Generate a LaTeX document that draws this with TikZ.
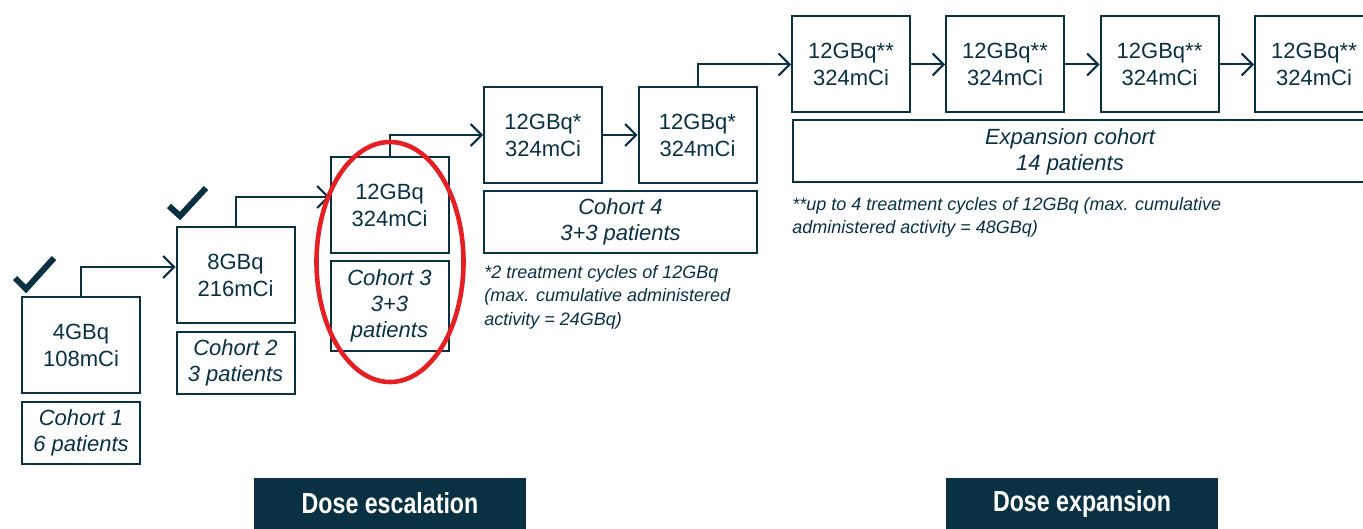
\documentclass[tikz,border=0pt]{standalone}
\usepackage{fontspec}
\setmainfont{Liberation Sans}
\newfontfamily\barfont[FakeStretch=0.8]{Liberation Sans}
\usetikzlibrary{arrows.meta}

\definecolor{navy}{RGB}{9,49,66}
\definecolor{ringred}{RGB}{228,32,36}

\begin{document}
\begin{tikzpicture}[x=0.5pt, y=-0.5pt,
  dose/.style={draw=navy, line width=1pt, text=navy, minimum width=59pt, minimum height=48pt, inner sep=0pt, align=center, font=\fontsize{11}{13.5}\selectfont},
  cohort/.style={draw=navy, line width=1pt, text=navy, minimum width=59pt, minimum height=31pt, inner sep=0pt, align=center, font=\fontsize{11}{13}\selectfont\itshape},
  link/.style={navy, line width=1pt, -{Straight Barb[length=5.5pt,width=11pt]}},
  tick/.style={navy, line width=3pt},
  note/.style={anchor=north west, inner sep=0pt, align=left, text=navy, font=\fontsize{9}{11.75}\selectfont\itshape},
  phase/.style={fill=navy, text=white, minimum width=136pt, minimum height=25.5pt, inner sep=0pt, font=\barfont\bfseries\fontsize{14.5}{16}\selectfont}]
\useasboundingbox (0,0) rectangle (1363,529);

% dose escalation
\node[dose] (dose1) at (81,345) {4GBq\\108mCi};
\node[cohort] (cohort1) at (81,433) {Cohort 1\\6 patients};

\node[dose] (dose2) at (235.5,275) {8GBq\\216mCi};
\node[cohort] (cohort2) at (235.5,363) {Cohort 2\\3 patients};

\node[dose] (dose3) at (389.5,205) {12GBq\\324mCi};
\node[cohort, minimum height=45pt] (cohort3) at (389.5,306) {Cohort 3\\3+3\\patients};

\node[dose] (dose4a) at (543,135) {12GBq*\\324mCi};
\node[dose] (dose4b) at (697.5,135) {12GBq*\\324mCi};
\node[cohort, minimum width=136.5pt] (cohort4) at (620.5,222) {Cohort 4\\3+3 patients};
\node[note] (note4) at (484,265) {*2 treatment cycles of 12GBq\\(max. cumulative administered\\activity = 24GBq)};

% dose expansion
\node[dose] (exp1) at (851,64.5) {12GBq**\\324mCi};
\node[dose] (exp2) at (1005,64.5) {12GBq**\\324mCi};
\node[dose] (exp3) at (1159.5,64.5) {12GBq**\\324mCi};
\node[dose] (exp4) at (1314,64.5) {12GBq**\\324mCi};
\node[cohort, minimum width=292pt, anchor=west] (expcohort) at (792,151.5) {\hspace{-15pt}Expansion cohort\\\hspace{-15pt}14 patients};
\node[note] (noteexp) at (792,197) {**up to 4 treatment cycles of 12GBq (max. cumulative\\administered activity = 48GBq)};

\draw[link] (dose1.north) |- ([yshift=4pt]dose2.west);
\draw[link] (dose2.north) |- ([yshift=4pt]dose3.west);
\draw[link] (dose3.north) |- (dose4a.west);
\draw[link] (dose4a) -- (dose4b);
\draw[link] (dose4b.north) |- (exp1.west);
\draw[link] (exp1) -- (exp2);
\draw[link] (exp2) -- (exp3);
\draw[link] (exp3) -- (exp4);

% ticks
\draw[tick] (15,278) -- (26,289) -- (54,258);
\draw[tick] (169,206) -- (180,216) -- (206,188);

\draw[ringred, line width=2.3pt] (390,262) ellipse [x radius=36.75pt, y radius=60pt];

\node[phase] (escbar) at (390,503.5) {Dose escalation};
\node[phase] (expbar) at (1082,503.5) {Dose expansion};
\end{tikzpicture}
\end{document}
